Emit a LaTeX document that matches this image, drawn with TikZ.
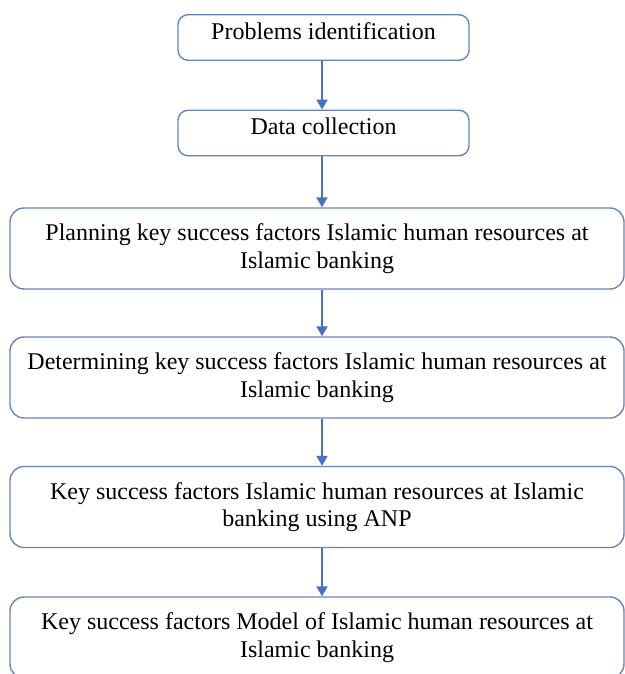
\documentclass[tikz,border=0pt]{standalone}
\usepackage{fontspec}
\setmainfont{Liberation Serif}
\usetikzlibrary{arrows.meta}
\definecolor{boxline}{RGB}{104,132,186}
\definecolor{arrowline}{RGB}{70,114,196}
\begin{document}
\begin{tikzpicture}[x=0.5pt,y=-0.5pt,
  smallbox/.style={draw=boxline,line width=0.7pt,rounded corners=5pt,
    minimum width=145.5pt,minimum height=22.75pt,inner sep=0pt,text depth=6.5pt,
    font=\fontsize{12}{13.8}\selectfont},
  widebox/.style={draw=boxline,line width=0.7pt,rounded corners=7pt,
    minimum width=307pt,minimum height=40.5pt,inner sep=0pt,align=center,
    font=\fontsize{12}{13.8}\selectfont},
  flow/.style={draw=arrowline,line width=1pt,-{Triangle[width=5.5pt,length=5pt]}}]
% picture frame
\clip (0,0) rectangle (625,674);

% Steps
\node[smallbox] (prob) at (323.5,37.5) {Problems identification};
\node[smallbox] (data) at (323.5,133) {Data collection};
\node[widebox] (plan) at (317,248.5) {Planning key success factors Islamic human resources at\\Islamic banking};
\node[widebox] (det) at (317,377.5) {Determining key success factors Islamic human resources at\\Islamic banking};
\node[widebox] (anp) at (317,507) {Key success factors Islamic human resources at Islamic\\banking using ANP};
\node[widebox] (model) at (317,637.5) {Key success factors Model of Islamic human resources at\\Islamic banking};

% Arrows
\draw[flow] (prob.south -| 322,0) -- (data.north -| 322,0);
\draw[flow] (data.south -| 322,0) -- (plan.north -| 322,0);
\draw[flow] (plan.south -| 322,0) -- (det.north -| 322,0);
\draw[flow] (det.south -| 322,0) -- (anp.north -| 322,0);
\draw[flow] (anp.south -| 322,0) -- (model.north -| 322,0);
\end{tikzpicture}
\end{document}
